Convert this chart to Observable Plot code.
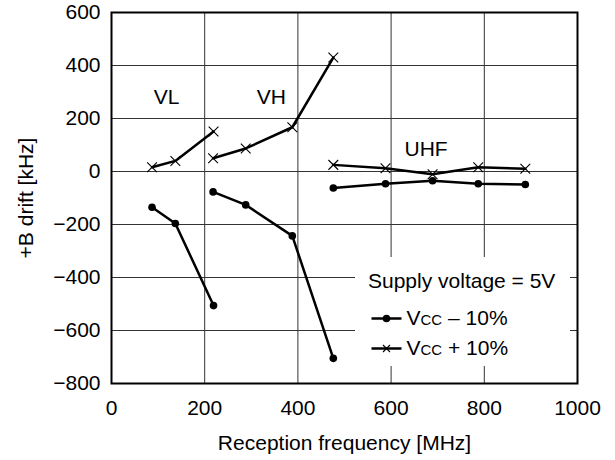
<!DOCTYPE html>
<html><head><meta charset="utf-8">
<script src="https://cdn.jsdelivr.net/npm/d3@7"></script>
<script src="https://cdn.jsdelivr.net/npm/@observablehq/plot@0.6"></script>
<style>body{margin:0;background:#fff}</style>
</head><body><div id="chart"></div>
<script>
// ---- data ----
const vlFreq = [87, 137, 219];
const vlMinus = [-135, -196, -506];
const vlPlus = [16, 40, 151];
const vhFreq = [218, 288, 388, 476];
const vhMinus = [-77, -126, -243, -705];
const vhPlus = [50, 87, 167, 430];
const uhfFreq = [476, 588, 689, 787, 888];
const uhfMinus = [-62, -46, -35, -46, -49];
const uhfPlus = [25, 12, -10, 16, 10];

const bandLabels = ["VL", "VH", "UHF"];
const bandLabelX = [118, 343, 675];
const bandLabelY = [279, 279, 83];

const xTicks = [0, 200, 400, 600, 800, 1000];
const yTicks = [-800, -600, -400, -200, 0, 200, 400, 600];
const xLabel = "Reception frequency [MHz]";
const yLabel = "+B drift [kHz]";
const legendTitle = "Supply voltage = 5V";
const legendItems = [["V", "CC", " \u2013 10%"], ["V", "CC", " + 10%"]];

// ---- build table ----
function rows(band, freq, minus, plus) {
  const out = [];
  freq.forEach((f, i) => out.push({band, series: "minus", key: band + "-minus", f, d: minus[i]}));
  freq.forEach((f, i) => out.push({band, series: "plus", key: band + "-plus", f, d: plus[i]}));
  return out;
}
const data = [
  ...rows("VL", vlFreq, vlMinus, vlPlus),
  ...rows("VH", vhFreq, vhMinus, vhPlus),
  ...rows("UHF", uhfFreq, uhfMinus, uhfPlus)
];
const minusData = data.filter(d => d.series === "minus");
const plusData = data.filter(d => d.series === "plus");
const labels = bandLabels.map((t, i) => ({t, x: bandLabelX[i], y: bandLabelY[i]}));

const FONT = "'Liberation Sans', Arial, Helvetica, sans-serif";
const fmt = d3.format("d");
const minusFmt = d => (d < 0 ? "\u2212" + Math.abs(d) : String(d));

const plot = Plot.plot({
  width: 615,
  height: 460,
  marginLeft: 111,
  marginRight: 38,
  marginTop: 12,
  marginBottom: 77,
  style: {fontFamily: FONT, fontSize: "21px", background: "#fff", color: "#000"},
  x: {domain: [0, 1000]},
  y: {domain: [-800, 600]},
  marks: [
    Plot.gridX({ticks: [200, 400, 600, 800], stroke: "#333", strokeOpacity: 1, strokeWidth: 1}),
    Plot.gridY({ticks: [-600, -400, -200, 0, 200, 400], stroke: "#333", strokeOpacity: 1, strokeWidth: 1}),
    Plot.axisX({ticks: xTicks, tickSize: 0, tickPadding: 17, label: null, fontSize: 21, tickFormat: fmt}),
    Plot.axisY({ticks: yTicks, tickSize: 0, tickPadding: 11, label: null, fontSize: 21, tickFormat: minusFmt}),
    Plot.line(data, {x: "f", y: "d", z: "key", stroke: "black", strokeWidth: 2.5}),
    Plot.dot(minusData, {x: "f", y: "d", r: 3.8, fill: "black", stroke: "none"}),
    Plot.dot(plusData, {x: "f", y: "d", symbol: "times", r: 4.5, stroke: "black", strokeWidth: 1.1}),
    Plot.text(labels, {x: "x", y: "y", text: "t", fontSize: 21, fill: "black"}),
    Plot.text([xLabel], {frameAnchor: "bottom", dy: 60, lineAnchor: "middle", textAnchor: "middle", fontSize: 21, fill: "black"}),
    Plot.text([yLabel], {frameAnchor: "left", dx: -85, rotate: -90, lineAnchor: "middle", textAnchor: "middle", fontSize: 21, fill: "black"}),
    Plot.frame({stroke: "black", strokeWidth: 2})
  ]
});
document.getElementById("chart").appendChild(plot);

// ---- legend ----
const svg = d3.select(plot.tagName.toLowerCase() === "svg" ? plot : plot.querySelector("svg"));
const lg = svg.append("g").attr("font-family", FONT).attr("font-size", 21).attr("fill", "black")
  .attr("text-anchor", "start");
lg.append("rect").attr("x", 355).attr("y", 257).attr("width", 215).attr("height", 109).attr("fill", "white");
lg.append("text").attr("x", 368).attr("y", 288).attr("text-anchor", "start").text(legendTitle);
const rowY = [318.5, 348.5];
const rowBase = [325, 354.5];
legendItems.forEach((parts, i) => {
  lg.append("line").attr("x1", 371.5).attr("x2", 401.5).attr("y1", rowY[i]).attr("y2", rowY[i])
    .attr("stroke", "black").attr("stroke-width", 2.5);
  if (i === 0) {
    lg.append("circle").attr("cx", 386.5).attr("cy", rowY[i]).attr("r", 3.8).attr("fill", "black");
  } else {
    const s = 3.5;
    lg.append("path").attr("d", `M${386.5 - s},${rowY[i] - s}L${386.5 + s},${rowY[i] + s}M${386.5 - s},${rowY[i] + s}L${386.5 + s},${rowY[i] - s}`)
      .attr("stroke", "black").attr("stroke-width", 1.1).attr("fill", "none");
  }
  const t = lg.append("text").attr("x", 406.5).attr("y", rowBase[i]).attr("text-anchor", "start");
  t.append("tspan").text(parts[0]);
  t.append("tspan").attr("font-size", 15).text(parts[1]);
  t.append("tspan").text(parts[2]);
});
</script>
</body></html>
